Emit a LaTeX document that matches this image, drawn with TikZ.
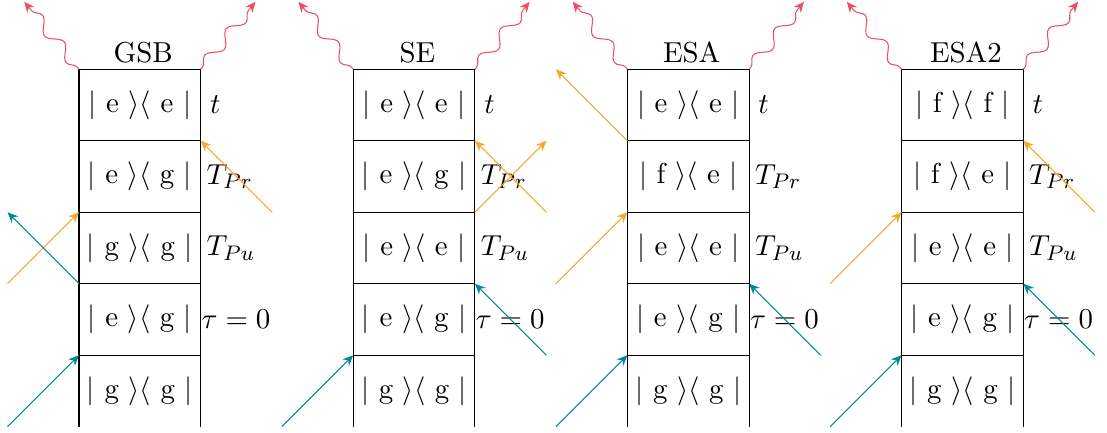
\documentclass[tikz,border=0pt,11pt]{standalone}
\usetikzlibrary{positioning,decorations.pathmorphing,arrows.meta}

\definecolor{emitcol}{RGB}{236,78,102}
\definecolor{probecol}{RGB}{246,168,40}
\definecolor{pumpcol}{RGB}{0,138,150}

\tikzset{
    dm/.style={draw, minimum width=1.623cm, minimum height=0.953cm, inner sep=0pt, outer sep=0pt},
    dmopen/.style={minimum width=1.623cm, minimum height=0.953cm, inner sep=0pt, outer sep=0pt},
    title/.style={xshift=1.3pt},
    lbl/.style={inner sep=3.33pt},
    pumparr/.style={pumpcol, -{Stealth[length=4pt,width=3.5pt]}},
    probearr/.style={probecol, -{Stealth[length=4pt,width=3.5pt]}},
    emission/.style={emitcol, -{Stealth[length=4pt,width=3.5pt]}, decorate,
        decoration={snake, amplitude=2.2pt, segment length=13pt, pre length=1pt, post length=4pt}}
}

\begin{document}
\begin{tikzpicture}
    \useasboundingbox (0,0) rectangle (14.76,-5.76);

    % GSB column
    \node[dm] (gsb1) at (1.865,-1.40) {$|$ e $\rangle\langle$ e $|$};
    \node[dm, below=0pt of gsb1] (gsb2) {$|$ e $\rangle\langle$ g $|$};
    \node[dm, below=0pt of gsb2] (gsb3) {$|$ g $\rangle\langle$ g $|$};
    \node[dm, below=0pt of gsb3] (gsb4) {$|$ e $\rangle\langle$ g $|$};
    \node[dmopen, below=0pt of gsb4] (gsb5) {$|$ g $\rangle\langle$ g $|$};
    \draw (gsb5.north west) -- (gsb5.south west) (gsb5.north east) -- (gsb5.south east);
    \node[title, above=-1.7pt of gsb1] (gsbtitle) {GSB};
    \node[lbl, right=0pt of gsb1] (gsbt) {$t$};
    \node[lbl, right=-1.3pt of gsb2] (gsbtpr) {$T_{Pr}$};
    \node[lbl, right=-1.3pt of gsb3] (gsbtpu) {$T_{Pu}$};
    \node[lbl, right=-3.2pt of gsb4] (gsbtau) {$\tau=0$};
    \coordinate[right=0.953cm of gsb2.south east] (gsbprA);
    \coordinate[left=0.953cm of gsb3.south west] (gsbprB);
    \coordinate[left=0.953cm of gsb3.north west] (gsbpuA);
    \coordinate[left=0.953cm of gsb5.south west] (gsbpuB);
    \coordinate[above left=0.9cm and 0.73cm of gsb1.north west] (gsbemA);
    \coordinate[above right=0.9cm and 0.73cm of gsb1.north east] (gsbemB);
    \draw[probearr] (gsbprA) -- (gsb2.north east);
    \draw[probearr] (gsbprB) -- (gsb3.north west);
    \draw[pumparr] (gsb3.south west) -- (gsbpuA);
    \draw[pumparr] (gsbpuB) -- (gsb5.north west);
    \draw[emission] (gsb1.north west) -- (gsbemA);
    \draw[emission] (gsb1.north east) -- (gsbemB);

    % SE column
    \node[dm, right=2.033cm of gsb1] (se1) {$|$ e $\rangle\langle$ e $|$};
    \node[dm, below=0pt of se1] (se2) {$|$ e $\rangle\langle$ g $|$};
    \node[dm, below=0pt of se2] (se3) {$|$ e $\rangle\langle$ e $|$};
    \node[dm, below=0pt of se3] (se4) {$|$ e $\rangle\langle$ g $|$};
    \node[dmopen, below=0pt of se4] (se5) {$|$ g $\rangle\langle$ g $|$};
    \draw (se5.north west) -- (se5.south west) (se5.north east) -- (se5.south east);
    \node[title, above=-1.7pt of se1] (setitle) {SE};
    \node[lbl, right=0pt of se1] (set) {$t$};
    \node[lbl, right=-1.3pt of se2] (setpr) {$T_{Pr}$};
    \node[lbl, right=-1.3pt of se3] (setpu) {$T_{Pu}$};
    \node[lbl, right=-3.2pt of se4] (setau) {$\tau=0$};
    \coordinate[right=0.953cm of se2.south east] (seprA);
    \coordinate[right=0.953cm of se2.north east] (seprB);
    \coordinate[right=0.953cm of se4.south east] (sepuA);
    \coordinate[left=0.953cm of se5.south west] (sepuB);
    \coordinate[above left=0.9cm and 0.73cm of se1.north west] (seemA);
    \coordinate[above right=0.9cm and 0.73cm of se1.north east] (seemB);
    \draw[probearr] (seprA) -- (se2.north east);
    \draw[probearr] (se2.south east) -- (seprB);
    \draw[pumparr] (sepuA) -- (se4.north east);
    \draw[pumparr] (sepuB) -- (se5.north west);
    \draw[emission] (se1.north west) -- (seemA);
    \draw[emission] (se1.north east) -- (seemB);

    % ESA column
    \node[dm, right=2.033cm of se1] (esa1) {$|$ e $\rangle\langle$ e $|$};
    \node[dm, below=0pt of esa1] (esa2) {$|$ f $\rangle\langle$ e $|$};
    \node[dm, below=0pt of esa2] (esa3) {$|$ e $\rangle\langle$ e $|$};
    \node[dm, below=0pt of esa3] (esa4) {$|$ e $\rangle\langle$ g $|$};
    \node[dmopen, below=0pt of esa4] (esa5) {$|$ g $\rangle\langle$ g $|$};
    \draw (esa5.north west) -- (esa5.south west) (esa5.north east) -- (esa5.south east);
    \node[title, above=-1.7pt of esa1] (esatitle) {ESA};
    \node[lbl, right=0pt of esa1] (esat) {$t$};
    \node[lbl, right=-1.3pt of esa2] (esatpr) {$T_{Pr}$};
    \node[lbl, right=-1.3pt of esa3] (esatpu) {$T_{Pu}$};
    \node[lbl, right=-3.2pt of esa4] (esatau) {$\tau=0$};
    \coordinate[left=0.953cm of esa1.north west] (esaprA);
    \coordinate[left=0.953cm of esa3.south west] (esaprB);
    \coordinate[right=0.953cm of esa4.south east] (esapuA);
    \coordinate[left=0.953cm of esa5.south west] (esapuB);
    \coordinate[above left=0.9cm and 0.73cm of esa1.north west] (esaemA);
    \coordinate[above right=0.9cm and 0.73cm of esa1.north east] (esaemB);
    \draw[probearr] (esa1.south west) -- (esaprA);
    \draw[probearr] (esaprB) -- (esa3.north west);
    \draw[pumparr] (esapuA) -- (esa4.north east);
    \draw[pumparr] (esapuB) -- (esa5.north west);
    \draw[emission] (esa1.north west) -- (esaemA);
    \draw[emission] (esa1.north east) -- (esaemB);

    % ESA2 column
    \node[dm, right=2.033cm of esa1] (esb1) {$|$ f $\rangle\langle$ f $|$};
    \node[dm, below=0pt of esb1] (esb2) {$|$ f $\rangle\langle$ e $|$};
    \node[dm, below=0pt of esb2] (esb3) {$|$ e $\rangle\langle$ e $|$};
    \node[dm, below=0pt of esb3] (esb4) {$|$ e $\rangle\langle$ g $|$};
    \node[dmopen, below=0pt of esb4] (esb5) {$|$ g $\rangle\langle$ g $|$};
    \draw (esb5.north west) -- (esb5.south west) (esb5.north east) -- (esb5.south east);
    \node[title, above=-1.7pt of esb1] (esbtitle) {ESA2};
    \node[lbl, right=0pt of esb1] (esbt) {$t$};
    \node[lbl, right=-1.3pt of esb2] (esbtpr) {$T_{Pr}$};
    \node[lbl, right=-1.3pt of esb3] (esbtpu) {$T_{Pu}$};
    \node[lbl, right=-3.2pt of esb4] (esbtau) {$\tau=0$};
    \coordinate[right=0.953cm of esb2.south east] (esbprA);
    \coordinate[left=0.953cm of esb3.south west] (esbprB);
    \coordinate[right=0.953cm of esb4.south east] (esbpuA);
    \coordinate[left=0.953cm of esb5.south west] (esbpuB);
    \coordinate[above left=0.9cm and 0.73cm of esb1.north west] (esbemA);
    \coordinate[above right=0.9cm and 0.73cm of esb1.north east] (esbemB);
    \draw[probearr] (esbprA) -- (esb2.north east);
    \draw[probearr] (esbprB) -- (esb3.north west);
    \draw[pumparr] (esbpuA) -- (esb4.north east);
    \draw[pumparr] (esbpuB) -- (esb5.north west);
    \draw[emission] (esb1.north west) -- (esbemA);
    \draw[emission] (esb1.north east) -- (esbemB);
\end{tikzpicture}
\end{document}
